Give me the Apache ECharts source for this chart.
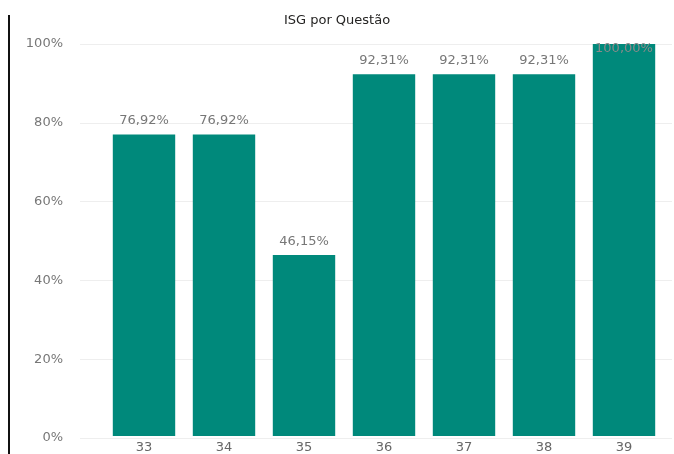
<!DOCTYPE html>
<html>
<head>
<meta charset="utf-8">
<script src="https://cdn.jsdelivr.net/npm/echarts@6/dist/echarts.min.js"></script>
<style>
html, body { margin: 0; padding: 0; background: #fff; }
#chart { width: 674px; height: 454px; }
</style>
</head>
<body>
<div id="chart"></div>
<script>
// dados
var questoes = ['33', '34', '35', '36', '37', '38', '39'];
var valores = [76.92, 76.92, 46.15, 92.31, 92.31, 92.31, 100];
var ticksY = [0, 20, 40, 60, 80, 100];

var fonte = 'DejaVu Sans';
var corBarra = '#00897b';

var myChart = echarts.init(document.getElementById('chart'));

var option = {
    animation: false,
    title: {
        text: 'ISG por Questão',
        left: 'center',
        top: 9,
        textStyle: { fontFamily: fonte, fontSize: 13, fontWeight: 'normal', color: '#252423' }
    },
    // grid 0: eixo Y e linhas de grade, grid 1: barras
    grid: [
        { left: 80, right: 2, top: 44, bottom: 16 },
        { left: 104, right: 10, top: 44, bottom: 16 }
    ],
    xAxis: [
        { gridIndex: 0, type: 'value', show: false, min: 0, max: 1 },
        {
            gridIndex: 1,
            type: 'category',
            data: questoes,
            axisLine: { show: false },
            axisTick: { show: false },
            axisLabel: { color: '#666', fontFamily: fonte, fontSize: 13, margin: 5 }
        }
    ],
    yAxis: [
        {
            gridIndex: 0,
            type: 'value',
            min: 0,
            max: 100,
            interval: 20,
            axisLine: { show: false },
            axisTick: { show: false },
            axisLabel: {
                color: '#777',
                fontFamily: fonte,
                fontSize: 13,
                margin: 17,
                formatter: function (v) { return ticksY.indexOf(v) >= 0 ? v + '%' : ''; }
            },
            splitLine: { lineStyle: { color: '#eeeeee', width: 1 } }
        },
        { gridIndex: 1, type: 'value', min: 0, max: 100, show: false }
    ],
    series: [{
        type: 'bar',
        xAxisIndex: 1,
        yAxisIndex: 1,
        barCategoryGap: '22%',
        itemStyle: { color: corBarra },
        label: {
            show: true,
            position: 'top',
            distance: 7,
            color: '#777',
            fontFamily: fonte,
            fontSize: 13,
            formatter: function (p) { return p.value.toFixed(2).replace('.', ',') + '%'; }
        },
        data: valores.map(function (v) {
            // rótulo de 100% fica dentro da área do gráfico
            if (v >= 100) {
                return { value: v, label: { position: 'insideTop', distance: -2, color: '#8a8a8a' } };
            }
            return v;
        })
    }],
    graphic: [{
        type: 'rect',
        shape: { x: 8, y: 15, width: 2, height: 439 },
        style: { fill: '#111' }
    }]
};

myChart.setOption(option, true);
window.addEventListener('resize', myChart.resize);
</script>
</body>
</html>
